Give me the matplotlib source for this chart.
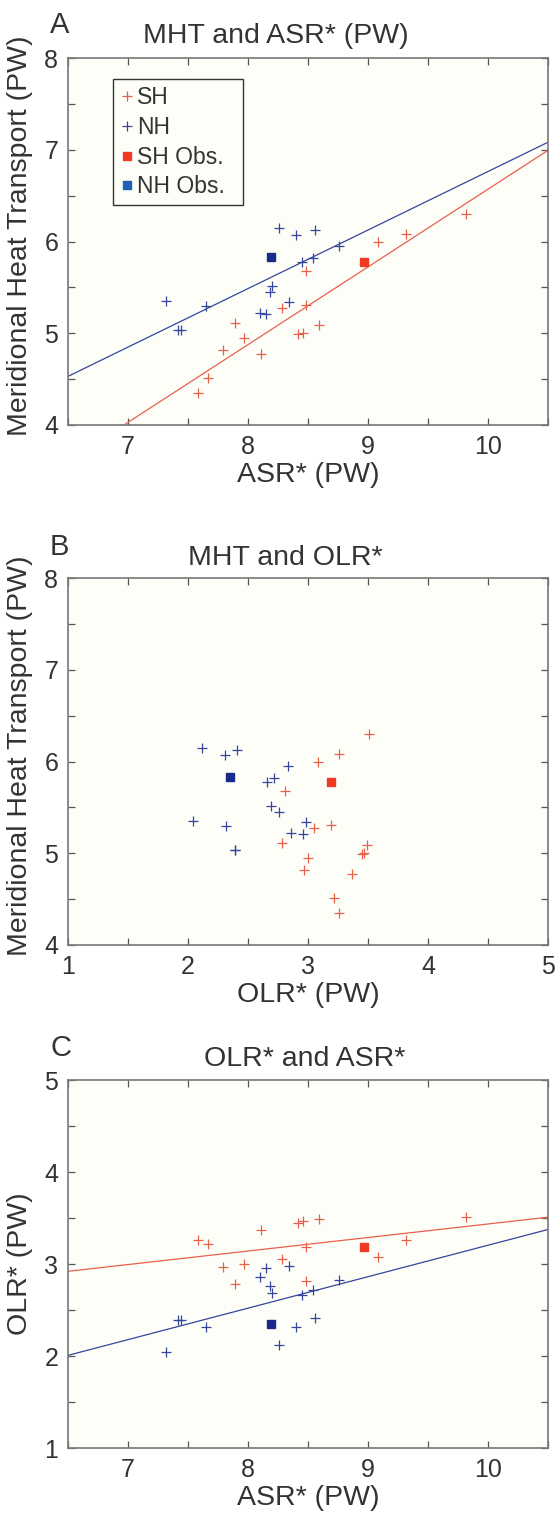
import numpy as np
import matplotlib
matplotlib.use("Agg")
import matplotlib.pyplot as plt
from matplotlib.ticker import MultipleLocator, FuncFormatter
from matplotlib.lines import Line2D

plt.rcParams['font.family'] = ['Liberation Sans', 'DejaVu Sans']

# model values (PW)
asr_sh = [9.82, 9.32, 9.08, 8.48, 8.48, 8.28, 7.89, 8.59, 8.42, 8.46, 7.97, 7.79, 8.11, 7.67, 7.58]
mht_sh = [6.30, 6.08, 6.00, 5.68, 5.31, 5.27, 5.11, 5.09, 4.99, 5.00, 4.95, 4.82, 4.77, 4.51, 4.35]
olr_sh = [3.51, 3.26, 3.08, 2.81, 3.19, 3.05, 2.78, 3.49, 3.45, 3.47, 3.00, 2.97, 3.37, 3.22, 3.26]

asr_nh = [8.26, 8.40, 8.56, 8.76, 8.45, 8.54, 8.20, 8.18, 8.34, 7.32, 7.65, 8.10, 8.15, 7.42, 7.44]
mht_nh = [6.15, 6.07, 6.13, 5.95, 5.78, 5.82, 5.52, 5.45, 5.34, 5.35, 5.30, 5.22, 5.21, 5.04, 5.03]
olr_nh = [2.12, 2.31, 2.41, 2.83, 2.66, 2.72, 2.69, 2.76, 2.98, 2.04, 2.32, 2.86, 2.96, 2.39, 2.39]

# observations: ASR*, MHT, OLR*
obs_sh = [8.97, 5.78, 3.19]
obs_nh = [8.19, 5.83, 2.35]

# fitted lines (slope, intercept)
fit_a_sh = [0.847, -1.90]
fit_a_nh = [0.638, 0.383]
fit_c_sh = [0.147, 1.965]
fit_c_nh = [0.342, -0.216]

c_sh = '#e8604c'
c_nh = '#34469c'
c_sh_obs = '#ef3b24'
c_nh_obs = '#1a2a8a'
txt = '#333333'

W, H = 556, 1514
fig = plt.figure(figsize=(W / 100, H / 100), dpi=100)


def px_axes(left, top, right, bottom):
    return fig.add_axes([left / W, 1 - bottom / H, (right - left) / W, (bottom - top) / H])


def int_fmt(v, p):
    return f"{v:.0f}" if abs(v - round(v)) < 1e-6 else ""


def style(ax, xlim, ylim, xlabel, ylabel):
    ax.set_facecolor('#fefef8')
    ax.set_xlim(*xlim)
    ax.set_ylim(*ylim)
    ax.xaxis.set_major_locator(MultipleLocator(0.5))
    ax.yaxis.set_major_locator(MultipleLocator(0.5))
    ax.xaxis.set_major_formatter(FuncFormatter(int_fmt))
    ax.yaxis.set_major_formatter(FuncFormatter(int_fmt))
    ax.tick_params(direction='in', length=5, width=0.9, color='#555555',
                   top=True, right=True, labelsize=18, labelcolor=txt, pad=7)
    for s in ax.spines.values():
        s.set_color('#777777')
        s.set_linewidth(1.2)
    ax.set_xlabel(xlabel, fontsize=20.5, color=txt)
    ax.xaxis.set_label_coords(0.5, -0.10)
    ax.set_ylabel(ylabel, fontsize=20.5, color=txt)
    ax.yaxis.set_label_coords(-0.072, 0.5)


def scatter(ax, xs, ys, color):
    ax.plot(xs, ys, '+', color=color, ms=7.5, mew=0.9, ls='none')


def fit(ax, coef, color):
    x0, x1 = ax.get_xlim()
    xs = np.array([x0, x1])
    ax.plot(xs, coef[0] * xs + coef[1], color=color, lw=0.9)


def obs(ax, x, y, color):
    ax.plot([x], [y], 's', color=color, ms=6, ls='none')


# panel A
axA = px_axes(68, 58, 548, 425)
style(axA, (6.5, 10.5), (4, 8), 'ASR* (PW)', 'Meridional Heat Transport (PW)')
axA.yaxis.set_label_coords(-0.072, 0.515)
fit(axA, fit_a_sh, c_sh)
fit(axA, fit_a_nh, c_nh)
scatter(axA, asr_sh, mht_sh, c_sh)
scatter(axA, asr_nh, mht_nh, c_nh)
obs(axA, obs_sh[0], obs_sh[1], c_sh_obs)
obs(axA, obs_nh[0], obs_nh[1], c_nh_obs)
handles = [
    Line2D([], [], marker='+', color=c_sh, ls='none', ms=7, mew=0.9),
    Line2D([], [], marker='+', color=c_nh, ls='none', ms=7, mew=0.9),
    Line2D([], [], marker='s', color=c_sh_obs, ls='none', ms=5.5),
    Line2D([], [], marker='s', color='#1f5fb5', ls='none', ms=5.5),
]
leg = axA.legend(handles, ['SH', 'NH', 'SH Obs.', 'NH Obs.'], loc='upper left',
                 bbox_to_anchor=(0.094, 0.616, 0.271, 0.327), mode='expand',
                 fontsize=16.5, frameon=True,
                 fancybox=False, edgecolor='#333333', framealpha=1,
                 facecolor='#fefef8', handlelength=0.6, handletextpad=0.15,
                 labelspacing=0.3, borderpad=0.3, borderaxespad=0)
leg.get_frame().set_linewidth(1.0)
for t in leg.get_texts():
    t.set_color(txt)

# panel B
axB = px_axes(68, 578, 548, 945)
style(axB, (1, 5), (4, 8), 'OLR* (PW)', 'Meridional Heat Transport (PW)')
axB.yaxis.set_label_coords(-0.072, 0.515)
scatter(axB, olr_sh, mht_sh, c_sh)
scatter(axB, olr_nh, mht_nh, c_nh)
obs(axB, obs_sh[2], obs_sh[1], c_sh_obs)
obs(axB, obs_nh[2], obs_nh[1], c_nh_obs)

# panel C
axC = px_axes(68, 1080, 548, 1448)
style(axC, (6.5, 10.5), (1, 5), 'ASR* (PW)', 'OLR* (PW)')
fit(axC, fit_c_sh, c_sh)
fit(axC, fit_c_nh, c_nh)
scatter(axC, asr_sh, olr_sh, c_sh)
scatter(axC, asr_nh, olr_nh, c_nh)
obs(axC, obs_sh[0], obs_sh[2], c_sh_obs)
obs(axC, obs_nh[0], obs_nh[2], c_nh_obs)

# titles and panel letters
for lab, title, tx, base in [('A', 'MHT and ASR* (PW)', 276, 43),
                             ('B', 'MHT and OLR*', 285, 565),
                             ('C', 'OLR* and ASR*', 305, 1066)]:
    fig.text(tx / W, 1 - base / H, title, ha='center', va='baseline',
             fontsize=20.5, color=txt)
    fig.text(50 / W, 1 - (base - 10) / H, lab, ha='left', va='baseline',
             fontsize=21, color=txt)

fig.savefig('out.png', dpi=100)
